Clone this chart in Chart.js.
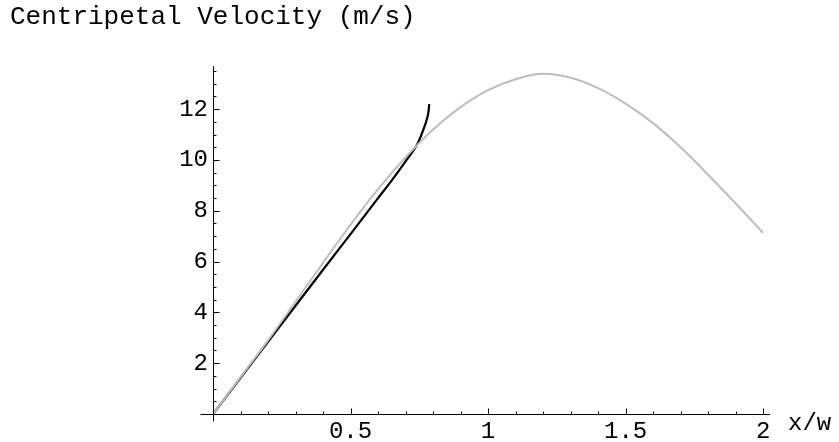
<!DOCTYPE html>
<html><head><meta charset="utf-8">
<script src="https://cdn.jsdelivr.net/npm/chart.js@4"></script>
<style>html,body{margin:0;padding:0;background:#fff}#wrap{width:839px;height:442px}</style>
</head><body><div id="wrap"><canvas id="c" width="839" height="442"></canvas></div>
<script>
const titleText = 'Centripetal Velocity (m/s)';
const xAxisLabel = 'x/w';
// gray curve
const grayX = [0,0.1,0.2,0.3,0.4,0.5,0.6,0.7,0.8,0.9,1.0,1.1,1.2,1.3,1.4,1.5,1.6,1.7,1.8,1.9,2.0];
const grayY = [0,1.45,2.9,4.42,5.95,7.45,8.85,10.1,11.2,12.08,12.75,13.18,13.39,13.24,12.83,12.22,11.45,10.5,9.42,8.29,7.13];
// black curve
const blackX = [0,0.1,0.2,0.3,0.4,0.5,0.6,0.65,0.7,0.745,0.765,0.778,0.784,0.786];
const blackY = [0,1.42,2.84,4.26,5.68,7.08,8.5,9.2,9.95,10.67,11.2,11.62,11.95,12.2];
const xTickValues = [0.5,1,1.5,2];
const yTickValues = [2,4,6,8,10,12];
const xMinorStep = 0.1, xMajorStep = 0.5, xMinorMax = 2.0;
const yMinorStep = 0.5, yMajorStep = 2, yMinorMax = 13.5;
const xRange = [0, 2.025];
const yRange = [0, 13.7];

const FONT = "'Liberation Mono', 'DejaVu Sans Mono', monospace";

const mathAxes = {
  id: 'mathAxes',
  afterDatasetsDraw(chart) {
    const {ctx, scales: {x, y}} = chart;
    const x0 = Math.round(x.getPixelForValue(0)) + 0.5;
    const y0 = Math.round(y.getPixelForValue(0)) + 0.5;
    ctx.save();
    ctx.strokeStyle = '#000';
    ctx.lineWidth = 1;
    ctx.beginPath();
    ctx.moveTo(x0 - 13, y0); ctx.lineTo(x.right, y0);
    ctx.moveTo(x0, y.top); ctx.lineTo(x0, y0 + 7);
    for (let i = 1; i * xMinorStep <= xMinorMax + 1e-9; i++) {
      const v = i * xMinorStep;
      const major = Math.abs(v / xMajorStep - Math.round(v / xMajorStep)) < 1e-6;
      const px = Math.round(x.getPixelForValue(v)) + 0.5;
      ctx.moveTo(px, y0); ctx.lineTo(px, y0 - (major ? 6 : 3));
    }
    for (let i = 1; i * yMinorStep <= yMinorMax + 1e-9; i++) {
      const v = i * yMinorStep;
      const major = Math.abs(v / yMajorStep - Math.round(v / yMajorStep)) < 1e-6;
      const py = Math.round(y.getPixelForValue(v)) + 0.5;
      ctx.moveTo(x0, py); ctx.lineTo(x0 + (major ? 6 : 3), py);
    }
    ctx.stroke();
    ctx.fillStyle = '#000';
    ctx.font = '24px ' + FONT;
    ctx.textAlign = 'left';
    ctx.textBaseline = 'alphabetic';
    ctx.fillText(xAxisLabel, x.right + 18, y0 + 15);
    ctx.restore();
  }
};

new Chart(document.getElementById('c'), {
  type: 'line',
  data: {
    datasets: [
      {
        data: grayX.map((v, i) => ({x: v, y: grayY[i]})),
        borderColor: '#bdbdbd', borderWidth: 2, pointRadius: 0,
        cubicInterpolationMode: 'monotone', fill: false
      },
      {
        data: blackX.map((v, i) => ({x: v, y: blackY[i]})),
        borderColor: '#000', borderWidth: 2.2, pointRadius: 0,
        cubicInterpolationMode: 'monotone', fill: false
      }
    ]
  },
  options: {
    responsive: false, animation: false,
    layout: {padding: {left: 10, right: 69, top: 0, bottom: 0}},
    plugins: {
      legend: {display: false}, tooltip: {enabled: false},
      title: {display: true, text: titleText, align: 'start', color: '#000',
        font: {family: FONT, size: 26, weight: 'normal'}, padding: {top: 2, bottom: 32.8}}
    },
    scales: {
      x: {type: 'linear', min: xRange[0], max: xRange[1],
        afterBuildTicks: a => { a.ticks = xTickValues.map(v => ({value: v})); },
        afterFit: s => { s.height = 28; },
        grid: {display: false, drawTicks: false}, border: {display: false},
        ticks: {font: {family: FONT, size: 24}, color: '#000', padding: 3, maxRotation: 0, autoSkip: false,
          callback: v => String(v)}},
      y: {type: 'linear', min: yRange[0], max: yRange[1],
        afterBuildTicks: a => { a.ticks = yTickValues.map(v => ({value: v})); },
        afterFit: s => { s.width = 203; },
        grid: {display: false, drawTicks: false}, border: {display: false},
        ticks: {font: {family: FONT, size: 24}, color: '#000', padding: 5, autoSkip: false,
          callback: v => String(v)}}
    }
  },
  plugins: [mathAxes]
});
</script>
</body></html>
